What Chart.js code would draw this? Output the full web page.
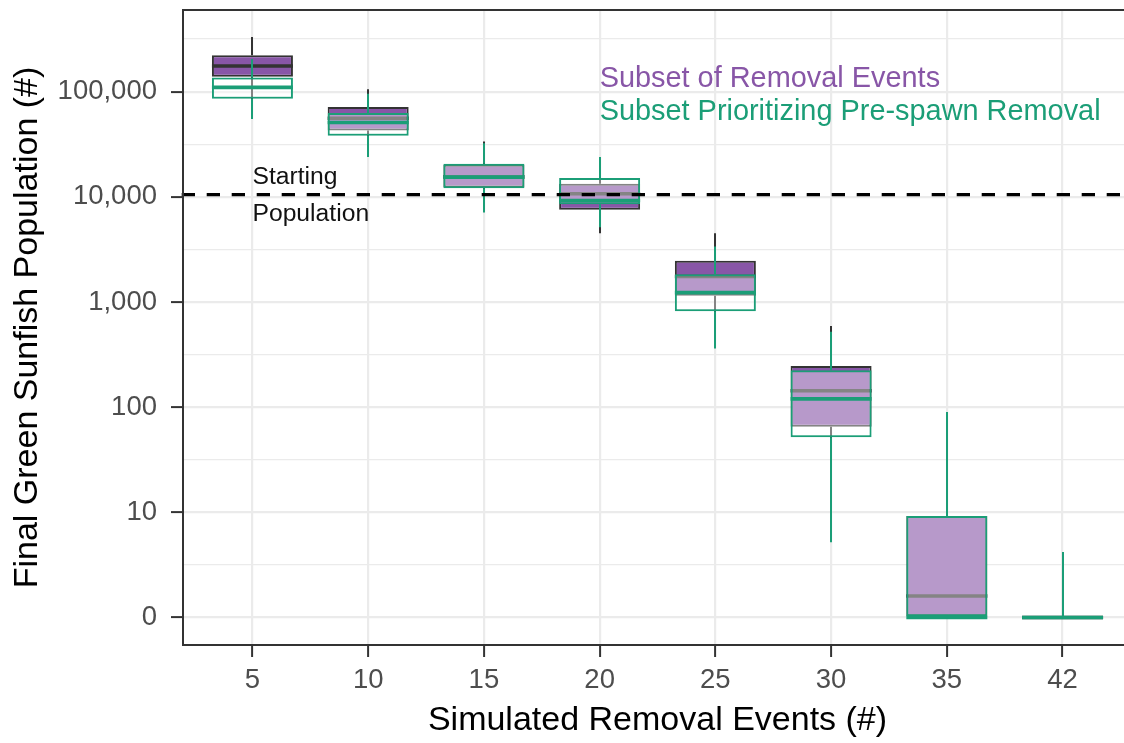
<!DOCTYPE html>
<html><head><meta charset="utf-8">
<script src="https://cdn.jsdelivr.net/npm/chart.js@4.4.1/dist/chart.umd.min.js"></script>
<style>
html,body{margin:0;padding:0;overflow:hidden;background:#fff;width:1124px;height:743px;}
#wrap{width:1135px;height:743px;position:relative;}
</style></head><body>
<div id="wrap"><canvas id="c"></canvas></div>
<script>
// ---- data (final population counts) ----
const categories = ['5','10','15','20','25','30','35','42'];

// Subset of Removal Events (purple)
const purpleLow    = [80000, 28000, 7500, 4510, 540, 13, 0, 0];
const purpleQ1     = [139000, 42800, 12300, 7520, 1148, 65, 0, 0];
const purpleMedian = [175800, 55900, 15500, 10700, 1750, 143, 1.6, 0];
const purpleQ3     = [221800, 71500, 20200, 13300, 2470, 246, 9.2, 0];
const purpleHigh   = [331900, 105700, 33600, 21500, 4510, 591, 60, 2.5];

// Subset Prioritizing Pre-spawn Removal (green)
const greenLow    = [55000, 23900, 7080, 5140, 362, 5.2, 0, 0];
const greenQ1     = [85700, 38100, 12100, 8510, 815, 51.8, 0, 0];
const greenMedian = [109900, 51000, 15400, 9220, 1227, 120, 0, 0];
const greenQ3     = [136800, 62700, 20600, 15070, 1836, 224, 9.2, 0];
const greenHigh   = [204600, 95700, 32300, 23900, 3365, 521, 90, 4.2];

const yTickValues = [0, 10, 100, 1000, 10000, 100000];
const startingPopulation = 10500;

const seriesNames = ['Subset of Removal Events', 'Subset Prioritizing Pre-spawn Removal'];
const annotationLines = ['Starting', 'Population'];

// ---- helpers ----
const toAxis = v => v < 1 ? 0 : Math.log10(v);
const FONT = "'Liberation Sans', Arial, Helvetica, sans-serif";
Chart.defaults.font.family = FONT;

const purpleFill = '#8856a7', purpleLine = '#333333', greenColor = '#1b9e77';

function boxData(q1, q3) {
  return q1.map((v, i) => ({ x: i + 1, y: [toAxis(v), toAxis(q3[i])] }));
}

const seriesStats = [
  { low: greenLow, q1: greenQ1, med: greenMedian, q3: greenQ3, high: greenHigh, color: greenColor },
  { low: purpleLow, q1: purpleQ1, med: purpleMedian, q3: purpleQ3, high: purpleHigh, color: purpleLine }
];

const gridTicks = [];
yTickValues.forEach(v => { const a = toAxis(v); gridTicks.push(a, a + 0.5); });
const isMajor = v => Math.abs(v - Math.round(v)) < 1e-6;

const boxExtras = {
  id: 'boxExtras',
  beforeDatasetDraw(chart, args) {
    const s = seriesStats[args.index];
    const { ctx, chartArea } = chart;
    const y = chart.scales.y;
    ctx.save();
    ctx.beginPath();
    ctx.rect(chartArea.left, chartArea.top, chartArea.right - chartArea.left, chartArea.bottom - chartArea.top);
    ctx.clip();
    ctx.strokeStyle = s.color;
    ctx.lineWidth = 2;
    ctx.lineCap = 'butt';
    args.meta.data.forEach((el, i) => {
      const x = Math.round(el.x);
      ctx.beginPath();
      ctx.moveTo(x, y.getPixelForValue(toAxis(s.q3[i])));
      ctx.lineTo(x, y.getPixelForValue(toAxis(s.high[i])));
      ctx.moveTo(x, y.getPixelForValue(toAxis(s.q1[i])));
      ctx.lineTo(x, y.getPixelForValue(toAxis(s.low[i])));
      ctx.stroke();
    });
    ctx.restore();
  },
  afterDatasetDraw(chart, args) {
    const s = seriesStats[args.index];
    const { ctx } = chart;
    const y = chart.scales.y;
    ctx.save();
    ctx.strokeStyle = s.color;
    ctx.lineWidth = 3.6;
    ctx.lineCap = 'butt';
    args.meta.data.forEach((el, i) => {
      const py = y.getPixelForValue(toAxis(s.med[i]));
      ctx.beginPath();
      ctx.moveTo(el.x - el.width / 2, py);
      ctx.lineTo(el.x + el.width / 2, py);
      ctx.stroke();
    });
    ctx.restore();
  },
  afterDatasetsDraw(chart) {
    const { ctx, chartArea } = chart;
    const x = chart.scales.x, y = chart.scales.y;
    ctx.save();
    const py = y.getPixelForValue(toAxis(startingPopulation));
    ctx.strokeStyle = '#000';
    ctx.lineWidth = 3.4;
    ctx.setLineDash([13.3, 11.7]);
    ctx.beginPath();
    ctx.moveTo(chartArea.left - 1.3, py);
    ctx.lineTo(chartArea.right, py);
    ctx.stroke();
    ctx.setLineDash([]);
    ctx.fillStyle = '#111';
    ctx.textAlign = 'left';
    ctx.textBaseline = 'alphabetic';
    ctx.font = '24.7px ' + FONT;
    const ax = x.getPixelForValue(1);
    ctx.fillText(annotationLines[0], ax, y.getPixelForValue(4.121));
    ctx.fillText(annotationLines[1], ax, y.getPixelForValue(3.774));
    ctx.font = '28.9px ' + FONT;
    const lx = x.getPixelForValue(4);
    ctx.fillStyle = purpleFill;
    ctx.fillText(seriesNames[0], lx, y.getPixelForValue(5.045));
    ctx.fillStyle = greenColor;
    ctx.fillText(seriesNames[1], lx, y.getPixelForValue(4.731));
    ctx.restore();
  },
  afterDraw(chart) {
    const { ctx, chartArea } = chart;
    ctx.save();
    ctx.strokeStyle = '#333333';
    ctx.lineWidth = 2;
    ctx.strokeRect(chartArea.left, chartArea.top, chartArea.right - chartArea.left, chartArea.bottom - chartArea.top);
    ctx.restore();
  }
};

new Chart(document.getElementById('c'), {
  type: 'bar',
  data: {
    datasets: [
      {
        label: seriesNames[1],
        data: boxData(greenQ1, greenQ3),
        backgroundColor: 'rgba(255,255,255,0.4)',
        borderColor: greenColor,
        borderWidth: 2,
        borderSkipped: false,
        order: 1
      },
      {
        label: seriesNames[0],
        data: boxData(purpleQ1, purpleQ3),
        backgroundColor: purpleFill,
        borderColor: purpleLine,
        borderWidth: 2,
        borderSkipped: false,
        order: 2
      }
    ]
  },
  options: {
    responsive: true,
    maintainAspectRatio: false,
    animation: false,
    grouped: false,
    barPercentage: 1,
    categoryPercentage: 0.7,
    layout: { padding: { top: 10, right: 3, left: 0, bottom: 0 } },
    plugins: { legend: { display: false }, tooltip: { enabled: false } },
    scales: {
      x: {
        type: 'linear',
        offset: false,
        min: 0.4,
        max: categories.length + 0.6,
        afterBuildTicks: s => { s.ticks = categories.map((c, i) => ({ value: i + 1 })); },
        afterFit: s => { s.height = 98; s.paddingLeft = 0; s.paddingRight = 0; },
        border: { display: false },
        grid: { offset: false, color: '#ebebeb', lineWidth: 2.2, tickLength: 12, tickColor: '#333333', tickWidth: 2 },
        ticks: {
          padding: 7,
          color: '#4d4d4d',
          font: { size: 27.5, family: FONT },
          maxRotation: 0,
          autoSkip: false,
          callback: v => categories[Math.round(v) - 1]
        },
        title: {
          display: true,
          text: 'Simulated Removal Events (#)',
          color: '#000',
          font: { size: 34, family: FONT, lineHeight: 1.2 },
          padding: { top: 0, bottom: 1.5 }
        }
      },
      y: {
        type: 'linear',
        min: -0.262,
        max: 5.777,
        afterBuildTicks: s => { s.ticks = gridTicks.map(v => ({ value: v })); },
        afterFit: s => { s.width = 183; s.paddingTop = 0; s.paddingBottom = 0; },
        border: { display: false },
        grid: {
          color: '#ebebeb',
          lineWidth: c => isMajor(c.tick.value) ? 2.2 : 1.3,
          tickLength: 12,
          tickColor: c => isMajor(c.tick.value) ? '#333333' : 'rgba(0,0,0,0)',
          tickWidth: 2
        },
        ticks: {
          padding: 14,
          color: '#4d4d4d',
          font: { size: 27.5, family: FONT },
          autoSkip: false,
          callback: v => isMajor(v) ? yTickValues[Math.round(v)].toLocaleString('en-US') : ''
        },
        title: {
          display: true,
          text: 'Final Green Sunfish Population (#)',
          color: '#000',
          font: { size: 34, family: FONT, lineHeight: 1.2 },
          padding: { top: 7, bottom: 0 }
        }
      }
    }
  },
  plugins: [boxExtras]
});
</script>
</body></html>
